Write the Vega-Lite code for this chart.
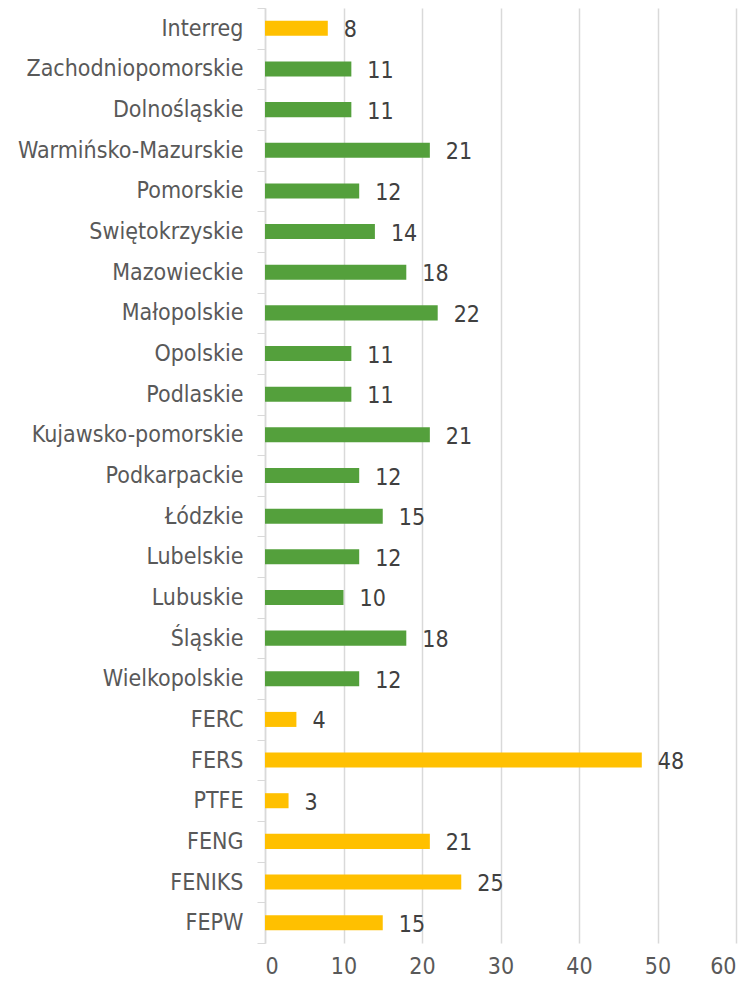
{
  "$schema": "https://vega.github.io/schema/vega-lite/v6.json",
  "autosize": "none",
  "width": 471,
  "height": 935,
  "padding": {"left": 265, "top": 8, "right": 16, "bottom": 42},
  "background": "white",
  "config": {"view": {"stroke": null}, "font": "DejaVu Sans Condensed"},
  "data": {"values": [
    {"name": "Interreg", "value": 8, "group": "national"},
    {"name": "Zachodniopomorskie", "value": 11, "group": "regional"},
    {"name": "Dolnośląskie", "value": 11, "group": "regional"},
    {"name": "Warmińsko-Mazurskie", "value": 21, "group": "regional"},
    {"name": "Pomorskie", "value": 12, "group": "regional"},
    {"name": "Swiętokrzyskie", "value": 14, "group": "regional"},
    {"name": "Mazowieckie", "value": 18, "group": "regional"},
    {"name": "Małopolskie", "value": 22, "group": "regional"},
    {"name": "Opolskie", "value": 11, "group": "regional"},
    {"name": "Podlaskie", "value": 11, "group": "regional"},
    {"name": "Kujawsko-pomorskie", "value": 21, "group": "regional"},
    {"name": "Podkarpackie", "value": 12, "group": "regional"},
    {"name": "Łódzkie", "value": 15, "group": "regional"},
    {"name": "Lubelskie", "value": 12, "group": "regional"},
    {"name": "Lubuskie", "value": 10, "group": "regional"},
    {"name": "Śląskie", "value": 18, "group": "regional"},
    {"name": "Wielkopolskie", "value": 12, "group": "regional"},
    {"name": "FERC", "value": 4, "group": "national"},
    {"name": "FERS", "value": 48, "group": "national"},
    {"name": "PTFE", "value": 3, "group": "national"},
    {"name": "FENG", "value": 21, "group": "national"},
    {"name": "FENIKS", "value": 25, "group": "national"},
    {"name": "FEPW", "value": 15, "group": "national"}
  ]},
  "encoding": {
    "y": {
      "field": "name", "type": "nominal", "sort": null, "title": null,
      "scale": {"paddingInner": 0, "paddingOuter": 0},
      "axis": {
        "domainColor": "#d9d9d9", "domainWidth": 1.5, "tickColor": "#d9d9d9", "tickBand": "extent", "tickSize": 8,
        "labelColor": "#595959", "labelFontSize": 23, "labelPadding": 14, "labelLimit": 300
      }
    },
    "x": {
      "field": "value", "type": "quantitative", "title": null,
      "scale": {"domain": [0, 60]},
      "axis": {
        "values": [0, 10, 20, 30, 40, 50, 60], "domain": false, "ticks": false,
        "gridColor": "#d9d9d9", "gridWidth": 1.5,
        "labelColor": "#595959", "labelFontSize": 23, "labelPadding": 12
      }
    }
  },
  "layer": [
    {
      "mark": {"type": "bar", "height": {"band": 0.37}},
      "encoding": {
        "color": {
          "field": "group", "type": "nominal", "legend": null,
          "scale": {"domain": ["national", "regional"], "range": ["#FFC000", "#54A03C"]}
        }
      }
    },
    {
      "mark": {"type": "text", "align": "left", "dx": 16, "dy": 2, "fontSize": 23, "color": "#404040"},
      "encoding": {"text": {"field": "value", "type": "quantitative"}}
    }
  ]
}
